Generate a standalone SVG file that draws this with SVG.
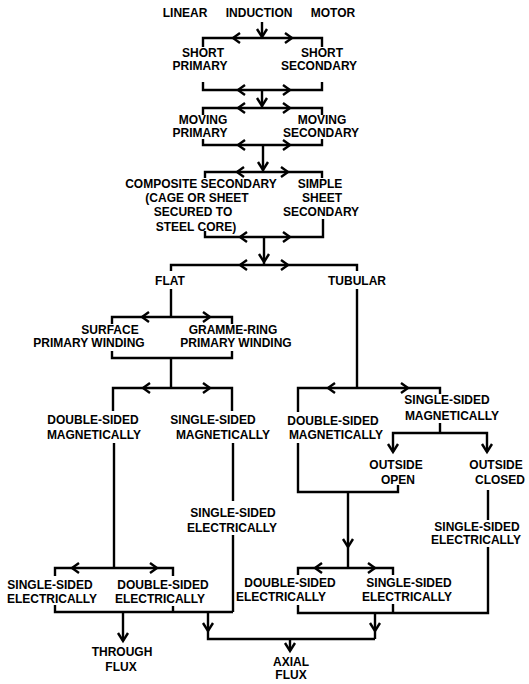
<svg xmlns="http://www.w3.org/2000/svg" xmlns:xlink="http://www.w3.org/1999/xlink" width="529" height="684" viewBox="0 0 529 684">
<style>
  .bg { fill: #ffffff; }
  .ln { fill: none; stroke: #000; stroke-width: 2.4; stroke-linejoin: miter; stroke-linecap: butt; }
  .ah { fill: none; stroke: #000; stroke-width: 2.4; stroke-linejoin: miter; }
  text { font-family: "Liberation Sans", Arial, sans-serif; font-weight: bold; font-size: 12px; fill: #000; text-anchor: middle; }
</style>
<defs>
  <path id="al" d="M7,-5 L0,0 L7,5"/>
  <path id="ar" d="M-7,-5 L0,0 L-7,5"/>
  <path id="ad" d="M-5,-8 L0,0 L5,-8"/>
</defs>
<rect class="bg" x="0" y="0" width="529" height="684"/>

<g id="connectors">
  <path class="ln" d="M262,22 V37"/>
  <path class="ln" d="M203,47 V38 H322 V47"/>
  <path class="ln" d="M203,82 V90 H322 V82"/>
  <path class="ln" d="M262,90 V108"/>
  <path class="ln" d="M203,115 V108 H322 V115"/>
  <path class="ln" d="M203,139 V145 H322 V139"/>
  <path class="ln" d="M263,145 V172"/>
  <path class="ln" d="M205,178 V172 H322 V178"/>
  <path class="ln" d="M205,231 V237 H323 V219"/>
  <path class="ln" d="M264,237 V265"/>
  <path class="ln" d="M171,271 V265 H357 V271"/>
  <path class="ln" d="M171,289 V317"/>
  <path class="ln" d="M357,289 V388"/>
  <path class="ln" d="M112,324 V317 H232 V324"/>
  <path class="ln" d="M112,351 V358 H232 V351"/>
  <path class="ln" d="M171,358 V388"/>
  <path class="ln" d="M113,411 V388 H232 V411"/>
  <path class="ln" d="M114,443 V568"/>
  <path class="ln" d="M233,443 V501"/>
  <path class="ln" d="M233,535 V612"/>
  <path class="ln" d="M55,576 V568 H173 V576"/>
  <path class="ln" d="M55,605 V612 H233"/>
  <path class="ln" d="M173,606 V612"/>
  <path class="ln" d="M123,612 V641"/>
  <path class="ln" d="M208,612 V639 H375"/>
  <path class="ln" d="M298,412 V388 H440 V394"/>
  <path class="ln" d="M440,423 V433"/>
  <path class="ln" d="M393,452 V433 H487 V452"/>
  <path class="ln" d="M298,443 V492 H398 V485"/>
  <path class="ln" d="M348,492 V568"/>
  <path class="ln" d="M488,490 V520"/>
  <path class="ln" d="M488,547 V613 H298 V605"/>
  <path class="ln" d="M393,604 V613"/>
  <path class="ln" d="M298,575 V568 H393 V575"/>
  <path class="ln" d="M375,613 V639"/>
  <path class="ln" d="M290,639 V651"/>
  <!-- arrowheads -->
  <use class="ah" xlink:href="#ad" x="262" y="37"/>
  <use class="ah" xlink:href="#al" x="233" y="38"/>
  <use class="ah" xlink:href="#ar" x="292" y="38"/>
  <use class="ah" xlink:href="#al" x="238" y="90"/>
  <use class="ah" xlink:href="#ar" x="290" y="90"/>
  <use class="ah" xlink:href="#ad" x="262" y="106"/>
  <use class="ah" xlink:href="#al" x="238" y="108"/>
  <use class="ah" xlink:href="#ar" x="290" y="108"/>
  <use class="ah" xlink:href="#al" x="238" y="145"/>
  <use class="ah" xlink:href="#ar" x="290" y="145"/>
  <use class="ah" xlink:href="#ad" x="263" y="170"/>
  <use class="ah" xlink:href="#al" x="237" y="172"/>
  <use class="ah" xlink:href="#ar" x="288" y="172"/>
  <use class="ah" xlink:href="#al" x="240" y="237"/>
  <use class="ah" xlink:href="#ar" x="290" y="237"/>
  <use class="ah" xlink:href="#ad" x="264" y="262"/>
  <use class="ah" xlink:href="#al" x="240" y="265"/>
  <use class="ah" xlink:href="#ar" x="288" y="265"/>
  <use class="ah" xlink:href="#al" x="142" y="317"/>
  <use class="ah" xlink:href="#ar" x="210" y="317"/>
  <use class="ah" xlink:href="#al" x="143" y="388"/>
  <use class="ah" xlink:href="#ar" x="210" y="388"/>
  <use class="ah" xlink:href="#al" x="72" y="568"/>
  <use class="ah" xlink:href="#ar" x="157" y="568"/>
  <use class="ah" xlink:href="#ad" x="123" y="641"/>
  <use class="ah" xlink:href="#ad" x="208" y="631"/>
  <use class="ah" xlink:href="#al" x="328" y="388"/>
  <use class="ah" xlink:href="#ar" x="408" y="388"/>
  <use class="ah" xlink:href="#ad" x="393" y="452"/>
  <use class="ah" xlink:href="#ad" x="487" y="452"/>
  <use class="ah" xlink:href="#ad" x="348" y="547"/>
  <use class="ah" xlink:href="#al" x="315" y="568"/>
  <use class="ah" xlink:href="#ar" x="375" y="568"/>
  <use class="ah" xlink:href="#ad" x="375" y="631"/>
  <use class="ah" xlink:href="#ad" x="290" y="651"/>
</g>

<g id="n-lim"><text x="259" y="17" word-spacing="15">LINEAR INDUCTION MOTOR</text></g>
<g id="n-short-primary"><text x="203" y="57">SHORT</text><text x="200" y="70">PRIMARY</text></g>
<g id="n-short-secondary"><text x="322" y="57">SHORT</text><text x="319" y="70">SECONDARY</text></g>
<g id="n-moving-primary"><text x="203" y="124">MOVING</text><text x="200" y="137">PRIMARY</text></g>
<g id="n-moving-secondary"><text x="322" y="124">MOVING</text><text x="321" y="137">SECONDARY</text></g>
<g id="n-composite"><text x="201" y="188">COMPOSITE SECONDARY</text><text x="197" y="202">(CAGE OR SHEET</text><text x="193" y="216">SECURED TO</text><text x="196" y="231">STEEL CORE)</text></g>
<g id="n-simple"><text x="320" y="188">SIMPLE</text><text x="322" y="202">SHEET</text><text x="321" y="216">SECONDARY</text></g>
<g id="n-flat"><text x="170" y="285">FLAT</text></g>
<g id="n-tubular"><text x="357" y="285">TUBULAR</text></g>
<g id="n-surface"><text x="110" y="334">SURFACE</text><text x="89" y="347">PRIMARY WINDING</text></g>
<g id="n-gramme"><text x="233" y="334">GRAMME-RING</text><text x="236" y="347">PRIMARY WINDING</text></g>
<g id="n-flat-dsm"><text x="93" y="424">DOUBLE-SIDED</text><text x="94" y="439">MAGNETICALLY</text></g>
<g id="n-flat-ssm"><text x="213" y="424">SINGLE-SIDED</text><text x="223" y="439">MAGNETICALLY</text></g>
<g id="n-flat-sse1"><text x="233" y="517">SINGLE-SIDED</text><text x="232" y="532">ELECTRICALLY</text></g>
<g id="n-flat-sse2"><text x="50" y="589">SINGLE-SIDED</text><text x="52" y="603">ELECTRICALLY</text></g>
<g id="n-flat-dse"><text x="163" y="589">DOUBLE-SIDED</text><text x="160" y="603">ELECTRICALLY</text></g>
<g id="n-through"><text x="122" y="656">THROUGH</text><text x="121" y="671">FLUX</text></g>
<g id="n-tub-dsm"><text x="333" y="425">DOUBLE-SIDED</text><text x="336" y="439">MAGNETICALLY</text></g>
<g id="n-tub-ssm"><text x="447" y="404">SINGLE-SIDED</text><text x="452" y="420">MAGNETICALLY</text></g>
<g id="n-open"><text x="396" y="469">OUTSIDE</text><text x="398" y="484">OPEN</text></g>
<g id="n-closed"><text x="496" y="469">OUTSIDE</text><text x="500" y="484">CLOSED</text></g>
<g id="n-tub-sse1"><text x="477" y="531">SINGLE-SIDED</text><text x="476" y="544">ELECTRICALLY</text></g>
<g id="n-tub-dse"><text x="290" y="587">DOUBLE-SIDED</text><text x="281" y="601">ELECTRICALLY</text></g>
<g id="n-tub-sse2"><text x="409" y="587">SINGLE-SIDED</text><text x="407" y="601">ELECTRICALLY</text></g>
<g id="n-axial"><text x="291" y="666">AXIAL</text><text x="291" y="679">FLUX</text></g>
</svg>
